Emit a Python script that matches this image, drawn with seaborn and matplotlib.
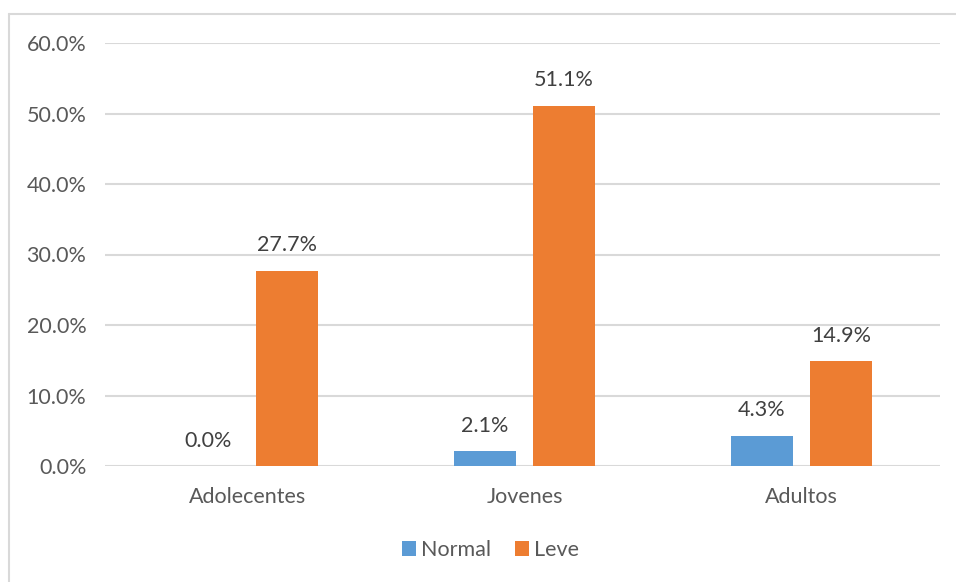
import matplotlib
matplotlib.use("Agg")
import matplotlib.pyplot as plt
import seaborn as sns
import pandas as pd
from matplotlib.ticker import PercentFormatter
from matplotlib.lines import Line2D
from matplotlib.patches import Patch

# Data
categories = ["Adolecentes", "Jovenes", "Adultos"]
series_names = ["Normal", "Leve"]
normal_values = [0.0, 2.1, 4.3]
leve_values = [27.7, 51.1, 14.9]
y_ticks = [0, 10, 20, 30, 40, 50, 60]

colors = {"Normal": "#5B9BD5", "Leve": "#ED7D31"}
text_color = "#595959"
label_color = "#404040"
grid_color = "#D9D9D9"
fs = 15.5

df = pd.DataFrame({
    "Grupo": categories * 2,
    "Serie": [series_names[0]] * len(categories) + [series_names[1]] * len(categories),
    "Valor": normal_values + leve_values,
})

sns.set_theme(style="white")
plt.rcParams["font.family"] = ["Lato", "DejaVu Sans"]

fig = plt.figure(figsize=(9.56, 5.82), dpi=100)
ax = fig.add_axes([105 / 956, 1 - 466 / 582, 835 / 956, 423 / 582])

sns.barplot(data=df, x="Grupo", y="Valor", hue="Serie", hue_order=series_names,
            palette=colors, width=0.572, gap=0.22, ax=ax, legend=False,
            saturation=1, edgecolor="none", linewidth=0)

ax.set_ylim(0, 60)
ax.set_yticks(y_ticks)
ax.yaxis.set_major_formatter(PercentFormatter(decimals=1))
ax.set_xlim(-0.514, 2.5)
ax.set_xlabel("")
ax.set_ylabel("")
ax.grid(axis="y", color=grid_color, linewidth=1.5)
ax.set_axisbelow(True)
for s in ax.spines.values():
    s.set_visible(False)
ax.tick_params(axis="both", length=0, colors=text_color, labelsize=fs)
ax.tick_params(axis="y", pad=13.5)
ax.tick_params(axis="x", pad=15)

# value labels
for cont in ax.containers:
    ax.bar_label(cont, fmt="%.1f%%", padding=11, color=label_color, fontsize=fs)

# chart-area border
fig.add_artist(Line2D([9 / 956, 9 / 956], [0, 1 - 14 / 582], transform=fig.transFigure,
                      color=grid_color, linewidth=1.5))
fig.add_artist(Line2D([9 / 956, 1], [1 - 14 / 582, 1 - 14 / 582], transform=fig.transFigure,
                      color=grid_color, linewidth=1.5))

handles = [Patch(facecolor=colors[n], edgecolor="none") for n in series_names]
fig.legend(handles, series_names, loc="center", bbox_to_anchor=(0.513, 1 - 550 / 582),
           ncol=2, frameon=False, fontsize=fs, handlelength=0.65, handleheight=0.65,
           handletextpad=0.25, columnspacing=1.1, labelcolor=text_color)

fig.savefig("out.png", dpi=100)
